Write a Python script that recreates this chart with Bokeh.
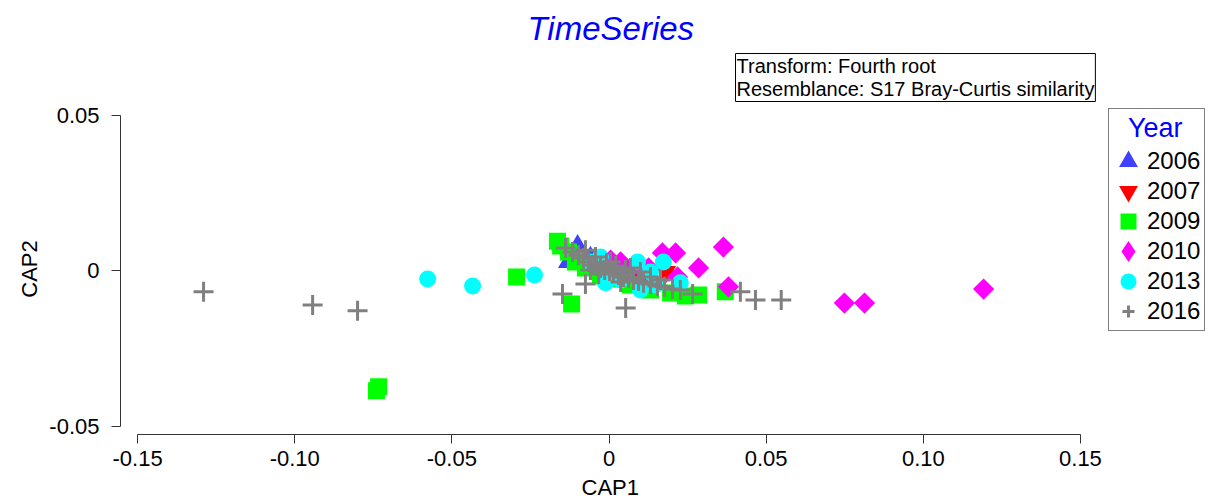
import numpy as np
from bokeh.plotting import figure
from bokeh.models import Range1d, FixedTicker, Legend, LegendItem, Title
from bokeh.embed import file_html
from bokeh.resources import INLINE

# ---------------- data (CAP1, CAP2 per year) ----------------
years = ["2006", "2007", "2009", "2010", "2013", "2016"]

x_2006 = [-0.0100, -0.0129, -0.0059, 0.0037]
y_2006 = [0.0080, 0.0029, 0.0042, 0.0003]

x_2007 = [0.0180, 0.0100, 0.0005]
y_2007 = [-0.0003, -0.0022, -0.0013]

x_2009 = [-0.0740, -0.0733, -0.0294, -0.0164, -0.0119, 0.0285, 0.0370,
          -0.0129, -0.0107, -0.0075, -0.0027, 0.0005, 0.0068, 0.0132,
          0.0196, 0.0243, -0.0154]
y_2009 = [-0.0385, -0.0372, -0.0019, 0.0096, -0.0106, -0.0077, -0.0067,
          0.0061, 0.0029, 0.0010, -0.0016, -0.0026, -0.0045, -0.0061,
          -0.0071, -0.0080, 0.0080]

x_2010 = [0.1192, 0.0749, 0.0813, 0.0364, 0.0380, 0.0285, 0.0212, 0.0170,
          0.0218, 0.0037, 0.0084, 0.0126, 0.0005]
y_2010 = [-0.0058, -0.0103, -0.0103, 0.0077, -0.0051, 0.0010, 0.0058, 0.0058,
          -0.0019, 0.0029, 0.0019, 0.0010, 0.0035]

x_2013 = [-0.0577, -0.0434, -0.0237, -0.0027, -0.0011, 0.0091, 0.0132, 0.0100,
          0.0173, 0.0227, 0.0037, 0.0148, -0.0059]
y_2013 = [-0.0026, -0.0048, -0.0013, 0.0045, -0.0038, 0.0029, -0.0003, -0.0061,
          0.0029, -0.0038, -0.0029, -0.0045, 0.0029]

x_2016 = [-0.1290, -0.0943, -0.0800, -0.0148, -0.0075, 0.0053, 0.0266, 0.0418,
          0.0466, 0.0548, -0.0138,
          -0.0116, -0.0097, -0.0081, -0.0065, -0.0053, -0.0040, -0.0027, -0.0014,
          0.0002, 0.0014, 0.0030, 0.0046, 0.0062, 0.0078, 0.0094, 0.0110,
          0.0132, 0.0154, 0.0177, 0.0202, 0.0227, -0.0059, -0.0033, -0.0008,
          0.0021, 0.0052, 0.0100, 0.0132, 0.0037, -0.0075, -0.0043, 0.0005,
          0.0068, 0.0164]
y_2016 = [-0.0067, -0.0109, -0.0128, -0.0074, -0.0042, -0.0119, -0.0074, -0.0067,
          -0.0093, -0.0093, 0.0074,
          0.0061, 0.0051, 0.0042, 0.0029, 0.0019, 0.0016, 0.0010, 0.0003,
          0.0000, -0.0006, -0.0013, -0.0019, -0.0022, -0.0029, -0.0032, -0.0038,
          -0.0042, -0.0048, -0.0051, -0.0058, -0.0061, 0.0003, -0.0010, 0.0026,
          0.0016, 0.0003, -0.0003, -0.0019, -0.0035, 0.0067, 0.0045, 0.0029,
          0.0010, -0.0029]

x_ticks = [-0.15, -0.10, -0.05, 0.0, 0.05, 0.10, 0.15]
x_tick_labels = ["-0.15", "-0.10", "-0.05", "0", "0.05", "0.10", "0.15"]
y_ticks = [-0.05, 0.0, 0.05]
y_tick_labels = ["-0.05", "0", "0.05"]

title_text = "TimeSeries"
info_text = "Transform: Fourth root\nResemblance: S17 Bray-Curtis similarity"
x_label = "CAP1"
y_label = "CAP2"
legend_title = "\u00a0\u00a0Year"

# ---------------- figure ----------------
FONT = "Liberation Sans"
p = figure(width=1208, height=504, output_backend="svg", toolbar_location=None,
           x_range=Range1d(-0.155425, 0.190741), y_range=Range1d(-0.052564, 0.053846),
           min_border_left=120, min_border_right=0, min_border_top=103,
           min_border_bottom=69)
p.outline_line_color = None
p.grid.visible = False

for ax in (p.xaxis[0], p.yaxis[0]):
    ax.axis_line_color = "#333333"
    ax.major_tick_line_color = "#333333"
    ax.major_tick_out = 9
    ax.major_tick_in = 0
    ax.minor_tick_line_color = None
    ax.major_label_text_font = FONT
    ax.major_label_text_font_size = "22px"
    ax.major_label_text_color = "black"
    ax.axis_label_text_font = FONT
    ax.axis_label_text_font_size = "22px"
    ax.axis_label_text_font_style = "normal"
    ax.axis_label_text_color = "black"

p.xaxis.ticker = FixedTicker(ticks=x_ticks)
p.xaxis.major_label_overrides = dict(zip(x_ticks, x_tick_labels))
p.xaxis.bounds = (x_ticks[0], x_ticks[-1])
p.xaxis.major_label_standoff = 7

p.yaxis.ticker = FixedTicker(ticks=y_ticks)
p.yaxis.major_label_overrides = dict(zip(y_ticks, y_tick_labels))
p.yaxis.bounds = (y_ticks[0], y_ticks[-1])
p.yaxis.axis_label = y_label
p.yaxis.major_label_standoff = 12
p.yaxis.axis_label_standoff = 4

# x axis title centred under the bounded axis (not the wider frame)
p.add_layout(Title(text=x_label, align="left", offset=461, standoff=9,
                   text_font=FONT, text_font_size="22px", text_font_style="normal",
                   text_color="black"), "below")

# header: info box (closest to frame) then main title above it
p.add_layout(Title(text=info_text, align="left", offset=615, standoff=4,
                   text_font=FONT, text_font_size="20px", text_font_style="normal",
                   text_line_height=1.09, text_color="black",
                   border_line_color="black", border_line_width=1,
                   background_fill_color="white", padding=1), "above")
p.title.text = title_text
p.title.align = "left"
p.title.offset = 407
p.title.standoff = 5
p.title.text_font = FONT
p.title.text_font_size = "33px"
p.title.text_font_style = "italic"
p.title.text_color = "#0000FF"

# ---------------- points ----------------
r06 = p.scatter(x_2006, y_2006, marker="triangle", size=14,
                fill_color="#4040FF", line_color="#4040FF", line_width=4,
                line_join="miter")
r07 = p.scatter(x_2007, y_2007, marker="inverted_triangle", size=14,
                fill_color="#FF0000", line_color="#FF0000", line_width=4,
                line_join="miter")
r09 = p.scatter(x_2009, y_2009, marker="square", size=13,
                fill_color="#00FF00", line_color="#00FF00", line_width=4,
                line_join="miter")
r10 = p.scatter(x_2010, y_2010, marker="square", size=11, angle=np.pi / 4,
                fill_color="#FF00FF", line_color="#FF00FF", line_width=4,
                line_join="miter")
r10_key = p.scatter([np.nan], [np.nan], marker="diamond", size=12,
                    fill_color="#FF00FF", line_color="#FF00FF", line_width=5,
                    line_join="miter")
r13 = p.scatter(x_2013, y_2013, marker="circle", size=13,
                fill_color="#00FFFF", line_color="#00FFFF", line_width=4)
r16 = p.scatter(x_2016, y_2016, marker="cross", size=20,
                line_color="#808080", line_width=3)

legend = Legend(items=[LegendItem(label=lab, renderers=[r])
                       for lab, r in zip(years, [r06, r07, r09, r10_key, r13, r16])],
                location=(988, 103))
legend.title = legend_title
legend.title_text_font = FONT
legend.title_text_font_size = "27px"
legend.title_text_font_style = "normal"
legend.title_text_color = "#0000FF"
legend.title_standoff = 2
legend.label_text_font = FONT
legend.label_text_font_size = "24px"
legend.label_text_color = "black"
legend.border_line_color = "black"
legend.border_line_width = 1
legend.background_fill_color = "white"
legend.background_fill_alpha = 1.0
legend.padding = 4
legend.margin = 0
legend.spacing = 0
legend.glyph_width = 30
legend.glyph_height = 30
legend.label_standoff = 4
p.add_layout(legend)

open("out.html", "w").write(file_html(p, INLINE))
